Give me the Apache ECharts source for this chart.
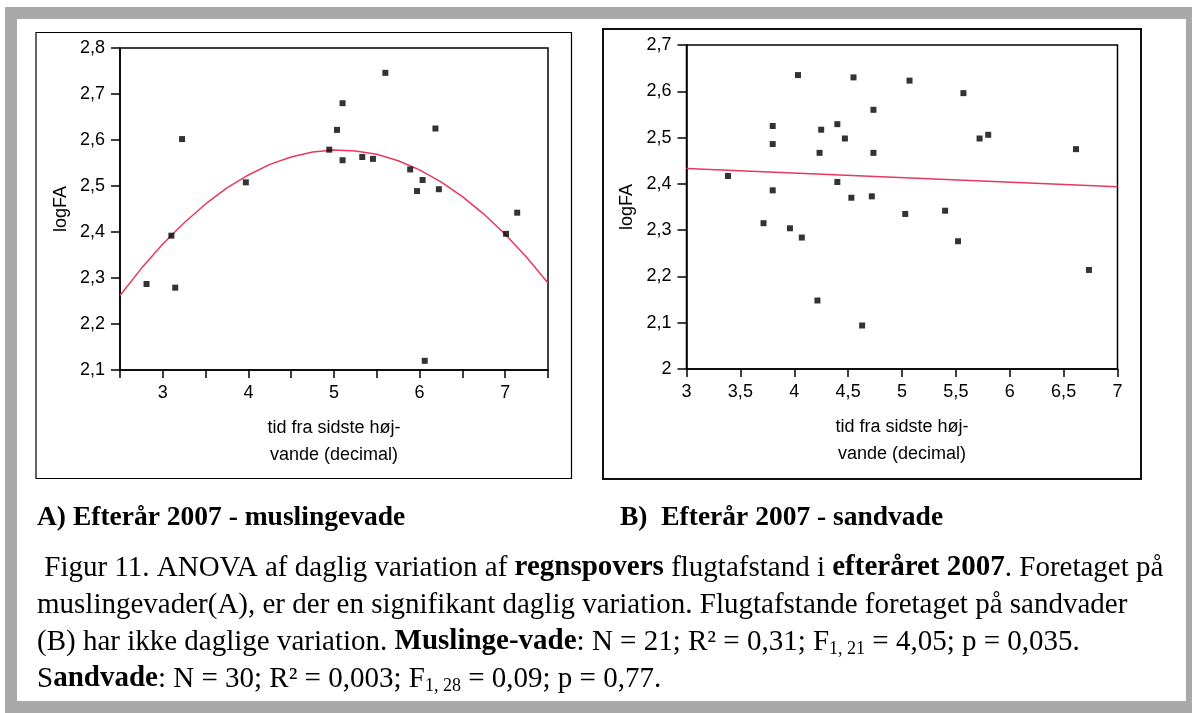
<!DOCTYPE html>
<html>
<head>
<meta charset="utf-8">
<script src="https://cdn.jsdelivr.net/npm/echarts@6/dist/echarts.min.js"></script>
<style>
html,body{margin:0;padding:0;background:#fff;}
#c{width:1192px;height:713px;}
</style>
</head>
<body>
<div id="c"></div>
<script>
// ---- Panel A: muslingevade (x = tid fra sidste højvande, y = logFA)
var musX = [2.81, 3.10, 3.145, 3.225, 3.97, 4.945, 5.035, 5.10, 5.10, 5.33, 5.455, 5.60, 5.89, 5.97, 6.035, 6.06, 6.185, 6.225, 7.01, 7.14];
var musY = [2.287, 2.392, 2.279, 2.602, 2.508, 2.579, 2.622, 2.680, 2.556, 2.563, 2.559, 2.746, 2.536, 2.489, 2.513, 2.120, 2.625, 2.493, 2.396, 2.442];
// fitted curve
var musFitX = [2.5, 2.75, 3.0, 3.25, 3.5, 3.75, 4.0, 4.25, 4.5, 4.75, 5.0, 5.25, 5.5, 5.75, 6.0, 6.25, 6.5, 6.75, 7.0, 7.25, 7.5];
var musFitY = [2.262, 2.321, 2.374, 2.420, 2.461, 2.496, 2.524, 2.547, 2.563, 2.574, 2.578, 2.576, 2.569, 2.555, 2.535, 2.509, 2.477, 2.439, 2.395, 2.345, 2.289];

// ---- Panel B: sandvade
var sandX = [3.385, 3.715, 3.80, 3.80, 3.80, 3.96, 4.035, 4.07, 4.215, 4.235, 4.25, 4.40, 4.40, 4.47, 4.53, 4.55, 4.63, 4.72, 4.735, 4.735, 5.03, 5.07, 5.40, 5.52, 5.57, 5.72, 5.80, 6.615, 6.735];
var sandY = [2.417, 2.315, 2.525, 2.486, 2.386, 2.304, 2.635, 2.284, 2.148, 2.467, 2.517, 2.529, 2.404, 2.498, 2.370, 2.630, 2.094, 2.373, 2.560, 2.467, 2.335, 2.623, 2.342, 2.276, 2.596, 2.498, 2.506, 2.475, 2.214];
var sandFitX = [3, 7];
var sandFitY = [2.433, 2.394];

// ---- texts
var yName = 'logFA';
var xName = 'tid fra sidste høj-\nvande (decimal)';
var titleA = 'A) Efterår 2007 - muslingevade';
var titleB = 'B)  Efterår 2007 - sandvade';
var capLine1 = ' Figur 11. ANOVA af daglig variation af {b|regnspovers} flugtafstand i {b|efteråret 2007}. Foretaget på';
var capLine2 = 'muslingevader(A), er der en signifikant daglig variation. Flugtafstande foretaget på sandvader';
var capLine3 = '(B) har ikke daglige variation. {b|Muslinge-vade}: N = 21; R² = 0,31; F{sub|1, 21} = 4,05; p = 0,035.';
var capLine4 = 'S{b|andvade}: N = 30; R² = 0,003; F{sub|1, 28} = 0,09; p = 0,77.';

function zip(a, b) { return a.map(function (v, i) { return [v, b[i]]; }); }
function fmtComma(v) {
  var r = Math.round(v * 10) / 10;
  if (Math.abs(r - Math.round(r)) < 1e-9) return String(Math.round(r));
  return r.toFixed(1).replace('.', ',');
}

var RED = '#e8385d';
var sansFont = 'Liberation Sans, Arial, sans-serif';
var serifFont = 'Liberation Serif, Times New Roman, serif';

function xAxisCfg(idx, min, max, onlyInt) {
  return {
    type: 'value', gridIndex: idx, min: min, max: max, interval: 0.5,
    name: xName, nameLocation: 'middle', nameGap: 45,
    nameTextStyle: { fontFamily: sansFont, fontSize: 18, color: '#000', lineHeight: 27 },
    axisLine: { show: true, onZero: false, lineStyle: { color: '#000', width: 1.5 } },
    axisTick: { show: true, length: 8, lineStyle: { color: '#000', width: 1.5 } },
    axisLabel: {
      show: true, margin: 14, fontFamily: sansFont, fontSize: 18, color: '#000',
      formatter: function (v) {
        if (onlyInt && Math.abs(v - Math.round(v)) > 1e-9) return '';
        return fmtComma(v);
      }
    },
    splitLine: { show: false }
  };
}
function yAxisCfg(idx, min, max) {
  return {
    type: 'value', gridIndex: idx, min: min, max: max, interval: 0.1,
    name: yName, nameLocation: 'middle', nameGap: 50,
    nameTextStyle: { fontFamily: sansFont, fontSize: 18, color: '#000' },
    axisLine: { show: true, onZero: false, lineStyle: { color: '#000', width: 1.5 } },
    axisTick: { show: true, length: 9, lineStyle: { color: '#000', width: 1.5 } },
    axisLabel: { show: true, margin: 15, fontFamily: sansFont, fontSize: 18, color: '#000', formatter: fmtComma },
    splitLine: { show: false }
  };
}

var chart = echarts.init(document.getElementById('c'), null, { renderer: 'canvas' });
chart.setOption({
  backgroundColor: '#fff',
  animation: false,
  grid: [
    { left: 120, top: 48, width: 428, height: 322, show: true, borderColor: '#000', borderWidth: 1.5, backgroundColor: 'transparent' },
    { left: 686.5, top: 45, width: 431, height: 324, show: true, borderColor: '#000', borderWidth: 1.5, backgroundColor: 'transparent' }
  ],
  xAxis: [xAxisCfg(0, 2.5, 7.5, true), xAxisCfg(1, 3, 7, false)],
  yAxis: [yAxisCfg(0, 2.1, 2.8), yAxisCfg(1, 2.0, 2.7)],
  series: [
    { type: 'line', xAxisIndex: 0, yAxisIndex: 0, data: zip(musFitX, musFitY), showSymbol: false, smooth: false,
      lineStyle: { color: RED, width: 1.5 }, z: 2 },
    { type: 'scatter', xAxisIndex: 0, yAxisIndex: 0, data: zip(musX, musY), symbol: 'rect', symbolSize: 6,
      itemStyle: { color: '#000' }, z: 3 },
    { type: 'line', xAxisIndex: 1, yAxisIndex: 1, data: zip(sandFitX, sandFitY), showSymbol: false,
      lineStyle: { color: RED, width: 1.5 }, z: 2 },
    { type: 'scatter', xAxisIndex: 1, yAxisIndex: 1, data: zip(sandX, sandY), symbol: 'rect', symbolSize: 6,
      itemStyle: { color: '#000' }, z: 3 }
  ],
  graphic: [
    { type: 'rect', z: -10, silent: true, shape: { x: 5, y: 7, width: 1187, height: 706 }, style: { fill: '#a9a9a9' } },
    { type: 'rect', z: -9, silent: true, shape: { x: 17, y: 19, width: 1169, height: 682 }, style: { fill: '#fff' } },
    { type: 'rect', z: -8, silent: true, shape: { x: 36, y: 32.5, width: 535.5, height: 446 }, style: { fill: 'none', stroke: '#000', lineWidth: 1.2 } },
    { type: 'rect', z: -8, silent: true, shape: { x: 603, y: 29, width: 538, height: 450 }, style: { fill: 'none', stroke: '#111', lineWidth: 2 } },
    { type: 'text', x: 37, y: 518, style: { text: titleA, font: 'bold 27.5px ' + serifFont, fill: '#000', textVerticalAlign: 'middle' } },
    { type: 'text', x: 620, y: 518, style: { text: titleB, font: 'bold 27.5px ' + serifFont, fill: '#000', textVerticalAlign: 'middle' } },
    { type: 'text', x: 37, y: 568, style: { text: capLine1, fontFamily: serifFont, fontSize: 29, fill: '#000', textVerticalAlign: 'middle',
        rich: { b: { fontWeight: 'bold', fontFamily: serifFont, fontSize: 29 } } } },
    { type: 'text', x: 37, y: 605, style: { text: capLine2, fontFamily: serifFont, fontSize: 29, fill: '#000', textVerticalAlign: 'middle' } },
    { type: 'text', x: 37, y: 642, style: { text: capLine3, fontFamily: serifFont, fontSize: 29, fill: '#000', textVerticalAlign: 'middle',
        rich: { b: { fontWeight: 'bold', fontFamily: serifFont, fontSize: 29 },
                sub: { fontFamily: serifFont, fontSize: 18, padding: [14, 0, 0, 0] } } } },
    { type: 'text', x: 37, y: 679, style: { text: capLine4, fontFamily: serifFont, fontSize: 29, fill: '#000', textVerticalAlign: 'middle',
        rich: { b: { fontWeight: 'bold', fontFamily: serifFont, fontSize: 29 },
                sub: { fontFamily: serifFont, fontSize: 18, padding: [14, 0, 0, 0] } } } }
  ]
});
</script>
</body>
</html>
